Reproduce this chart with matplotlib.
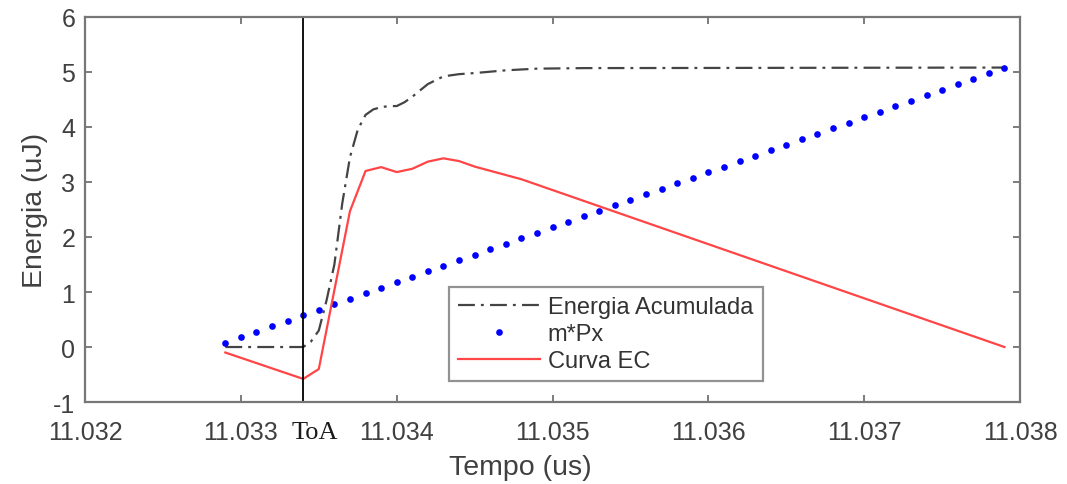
import matplotlib.pyplot as plt

plt.rcParams['font.family'] = ['Liberation Sans', 'DejaVu Sans']
plt.rcParams['axes.unicode_minus'] = False

# Energia acumulada (dash-dot)
t_energia = [11.0329, 11.0334, 11.03345, 11.0335, 11.03355, 11.0336, 11.03365,
             11.0337, 11.03375, 11.0338, 11.03385, 11.0339, 11.03395, 11.0340,
             11.03405, 11.0341, 11.0342, 11.0343, 11.0344, 11.0345, 11.0347,
             11.0349, 11.0352, 11.0379]
energia = [0.0, 0.0, 0.1, 0.3, 0.85, 1.5, 2.6,
           3.45, 3.95, 4.22, 4.32, 4.36, 4.38, 4.38,
           4.45, 4.55, 4.78, 4.92, 4.96, 4.98, 5.03,
           5.06, 5.07, 5.08]

# m*Px (reta de referencia, pontos)
t_px = [11.0329, 11.0330, 11.0331, 11.0332, 11.0333, 11.0334, 11.0335, 11.0336,
        11.0337, 11.0338, 11.0339, 11.0340, 11.0341, 11.0342, 11.0343, 11.0344,
        11.0345, 11.0346, 11.0347, 11.0348, 11.0349, 11.0350, 11.0351, 11.0352,
        11.0353, 11.0354, 11.0355, 11.0356, 11.0357, 11.0358, 11.0359, 11.0360,
        11.0361, 11.0362, 11.0363, 11.0364, 11.0365, 11.0366, 11.0367, 11.0368,
        11.0369, 11.0370, 11.0371, 11.0372, 11.0373, 11.0374, 11.0375, 11.0376,
        11.0377, 11.0378, 11.0379]
m_px = [0.08, 0.18, 0.28, 0.38, 0.48, 0.58, 0.68, 0.78, 0.88, 0.98,
        1.08, 1.18, 1.28, 1.38, 1.48, 1.58, 1.68, 1.78, 1.88, 1.98,
        2.08, 2.18, 2.28, 2.38, 2.48, 2.58, 2.68, 2.78, 2.88, 2.98,
        3.08, 3.18, 3.28, 3.38, 3.48, 3.58, 3.68, 3.78, 3.88, 3.98,
        4.08, 4.18, 4.28, 4.38, 4.48, 4.58, 4.68, 4.78, 4.88, 4.98,
        5.08]

# Curva EC
t_ec = [11.0329, 11.0334, 11.0335, 11.0337, 11.0338, 11.0339, 11.0340,
        11.0341, 11.0342, 11.0343, 11.0344, 11.0345, 11.0348, 11.0379]
curva_ec = [-0.1, -0.58, -0.4, 2.47, 3.2, 3.27, 3.18,
            3.24, 3.37, 3.43, 3.38, 3.28, 3.05, 0.0]

toa = 11.0334

xticks = [11.032, 11.033, 11.034, 11.035, 11.036, 11.037, 11.038]
yticks = [-1, 0, 1, 2, 3, 4, 5, 6]

fig = plt.figure(figsize=(10.67, 4.85), dpi=100)
ax = fig.add_axes([0.0797, 0.169, 0.8763, 0.794])

ax.plot(t_energia, energia, linestyle=(0, (7.6, 2.7, 1.3, 2.8)), color='#444444',
        lw=1.6, label='Energia Acumulada')
ax.plot(t_px, m_px, linestyle='none', marker='o', ms=4.8, color='#0000ff',
        mec='none', label='m*Px')
ax.plot(t_ec, curva_ec, '-', color='#ff4545', lw=1.6, label='Curva EC')
ax.axvline(toa, color='black', lw=1.3)

ax.set_xlim(11.032, 11.038)
ax.set_ylim(-1, 6)
ax.set_xticks(xticks)
ax.set_xticklabels([f"{v:.3f}" for v in xticks])
ax.set_yticks(yticks)

ax.tick_params(direction='in', length=5, width=1.2, color='#666666',
               labelsize=18, labelcolor='#404040', top=True, right=True)
ax.tick_params(axis='x', pad=13)
ax.tick_params(axis='y', pad=7)
for s in ax.spines.values():
    s.set_color('#777777')
    s.set_linewidth(1.6)

ax.annotate('ToA', xy=(toa, 0), xycoords=('data', 'axes fraction'),
            xytext=(8.5, -13.5), textcoords='offset points',
            family=['Liberation Serif', 'DejaVu Serif'],
            fontsize=19, ha='center', va='top', color='#1a1a1a')

ax.set_xlabel('Tempo (us)', fontsize=20.5, color='#404040', labelpad=7, x=0.465)
ax.set_ylabel('Energia (uJ)', fontsize=20.5, color='#404040', labelpad=4)

leg = ax.legend(loc='lower left', bbox_to_anchor=(0.389, 0.054), fontsize=17,
                frameon=True, fancybox=False, borderpad=0.4, labelspacing=0.2,
                handlelength=3.45, handletextpad=0.35, borderaxespad=0)
leg.get_frame().set_edgecolor('#777777')
leg.get_frame().set_linewidth(1.6)
for txt in leg.get_texts():
    txt.set_color('#333333')

plt.savefig('out.png', dpi=100)
